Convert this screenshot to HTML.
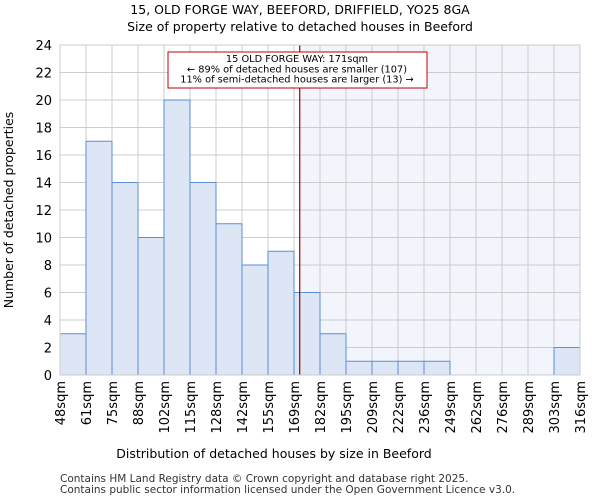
<!DOCTYPE html>
<html><head><meta charset="utf-8"><style>
body{margin:0;background:#fff;font-family:"DejaVu Sans","Liberation Sans",sans-serif}
</style></head><body>
<svg id="c" width="600" height="500" xmlns="http://www.w3.org/2000/svg" font-family="DejaVu Sans, Liberation Sans, sans-serif">
<text x="300" y="14" text-anchor="middle" font-size="12.5">15, OLD FORGE WAY, BEEFORD, DRIFFIELD, YO25 8GA</text>
<text x="300" y="31" text-anchor="middle" font-size="12.5">Size of property relative to detached houses in Beeford</text>
<g id="plot"></g>
<text x="274" y="458" text-anchor="middle" font-size="12.5">Distribution of detached houses by size in Beeford</text>
<text transform="translate(13,210) rotate(-90)" text-anchor="middle" font-size="12.5">Number of detached properties</text>
<text x="60" y="482" font-size="10.5" fill="#333">Contains HM Land Registry data © Crown copyright and database right 2025.</text>
<text x="60" y="493" font-size="10.5" fill="#333">Contains public sector information licensed under the Open Government Licence v3.0.</text>
</svg>
<script>
const tickLabels=["48sqm","61sqm","75sqm","88sqm","102sqm","115sqm","128sqm","142sqm","155sqm","169sqm","182sqm","195sqm","209sqm","222sqm","236sqm","249sqm","262sqm","276sqm","289sqm","303sqm","316sqm"];
const counts=[3,17,14,10,20,14,11,8,9,6,3,1,1,1,1,0,0,0,0,2];
const yTicks=[0,2,4,6,8,10,12,14,16,18,20,22,24];
const markerBinPos=9.22;
const X0=60,X1=580,Y0=375,Y1=45,YMAX=24;
const n=counts.length,bw=(X1-X0)/n;
const xs=i=>X0+i*bw, ys=v=>Y0-(v/YMAX)*(Y0-Y1);
const ns="http://www.w3.org/2000/svg",g=document.getElementById('plot');
function mk(t,a){const e=document.createElementNS(ns,t);for(const k in a)e.setAttribute(k,a[k]);g.appendChild(e);return e;}
const mx=xs(markerBinPos);
let e=mk('rect',{x:mx,y:Y1,width:X1-mx,height:Y0-Y1,fill:'#f2f5fc'});


for(let i=0;i<=n;i++){e=mk('line',{x1:xs(i),x2:xs(i),y1:Y1,y2:Y0,stroke:'#ccc'});

}
yTicks.forEach(v=>{e=mk('line',{x1:X0,x2:X1,y1:ys(v),y2:ys(v),stroke:'#ccc'});


const t=mk('text',{x:X0-8,y:ys(v)+5,'text-anchor':'end','font-size':13});t.textContent=v;

});
counts.forEach((v,i)=>{if(v<=0)return;e=mk('rect',{x:xs(i),y:ys(v),width:bw,height:Y0-ys(v),fill:'#dce6f4',stroke:'#5b8fd6','stroke-width':1});

});
tickLabels.forEach((l,i)=>{const x=xs(i);const t=mk('text',{transform:`translate(${x+5},381) rotate(-90)`,'text-anchor':'end','font-size':13});t.textContent=l;

});
e=mk('line',{x1:mx,x2:mx,y1:Y1,y2:Y0,stroke:'#a00000','stroke-width':1.2});


e=mk('rect',{x:168,y:52,width:259,height:36,fill:'#fff',stroke:'#c00000'});


["15 OLD FORGE WAY: 171sqm","← 89% of detached houses are smaller (107)","11% of semi-detached houses are larger (13) →"].forEach((s,i)=>{const t=mk('text',{x:297,y:62+i*10.3,'text-anchor':'middle','font-size':9.8});t.textContent=s;

});
e=mk('rect',{x:X0,y:Y1,width:X1-X0,height:Y0-Y1,fill:'none',stroke:'#ccc'});


</script>
</body></html>
